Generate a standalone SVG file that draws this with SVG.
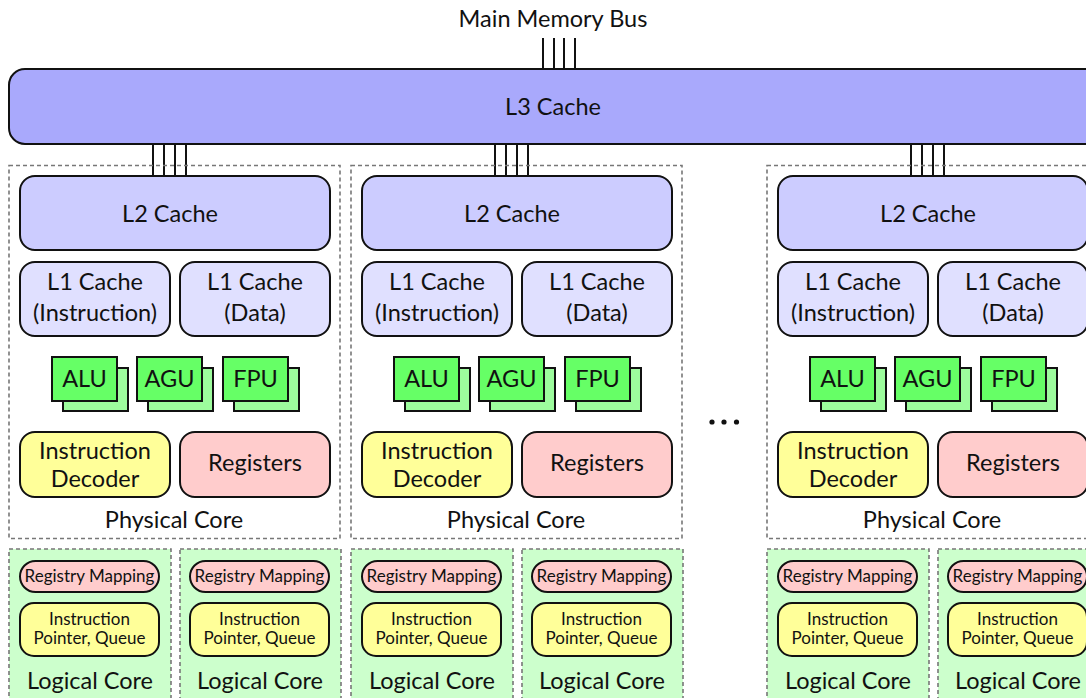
<svg xmlns="http://www.w3.org/2000/svg" xmlns:xlink="http://www.w3.org/1999/xlink" width="1086" height="698" viewBox="0 0 1086 698">
<style>
text{font-family:Lato,"Open Sans","Liberation Sans",sans-serif;fill:#111;text-anchor:middle}
.big{font-size:23.5px}
.sm{font-size:17px}
.box{stroke:#111;stroke-width:2}
.dash{fill:none;stroke:#777;stroke-width:1.6;stroke-dasharray:4 3}
.lc{fill:#ccffcc;stroke:#777;stroke-width:1.6;stroke-dasharray:4 3}
.l3{fill:#a9a9fc}
.l2{fill:#ccccff}
.l1{fill:#e0e0ff}
.fu{fill:#66ff66}
.fub{fill:#9dfc9d}
.dec{fill:#ffff99}
.reg{fill:#ffcccc}
.bus{stroke:#111;stroke-width:2;fill:none}
</style>
<rect width="1086" height="698" fill="#fff"/>

<g id="connectors">
  <path class="bus" d="M543 38V70M554 38V70M564 38V70M575 38V70"/>
  <path class="bus" d="M153 144V177M164 144V177M175 144V177M186 144V177"/>
  <path class="bus" d="M495 144V177M506 144V177M517 144V177M528 144V177"/>
  <path class="bus" d="M911 144V177M922 144V177M933 144V177M944 144V177"/>
</g>

<g id="main-memory-bus"><text class="big" x="553" y="27">Main Memory Bus</text></g>

<g id="l3-cache">
  <rect class="box l3" x="9" y="69" width="1095" height="75" rx="16"/>
  <text class="big" x="553" y="115">L3 Cache</text>
</g>

<!-- Core 1 -->
<g id="core1">
  <g id="core1-physical"><rect class="dash" x="9" y="165.5" width="331" height="373"/><text class="big" x="174" y="528">Physical Core</text></g>
  <g id="core1-l2"><rect class="box l2" x="20" y="176" width="310" height="74" rx="15"/><text class="big" x="170" y="222">L2 Cache</text></g>
  <g id="core1-l1i"><rect class="box l1" x="20" y="262" width="150" height="74" rx="15"/><text class="big" x="95" y="290">L1 Cache</text><text class="big" x="95" y="321">(Instruction)</text></g>
  <g id="core1-l1d"><rect class="box l1" x="180" y="262" width="150" height="74" rx="15"/><text class="big" x="255" y="290">L1 Cache</text><text class="big" x="255" y="321">(Data)</text></g>
  <g id="core1-alu"><rect class="box fub" x="63" y="368" width="65" height="43"/><rect class="box fu" x="52" y="357" width="65" height="44"/><text class="big" x="84.5" y="387">ALU</text></g>
  <g id="core1-agu"><rect class="box fub" x="148" y="368" width="65" height="43"/><rect class="box fu" x="137" y="357" width="65" height="44"/><text class="big" x="169.5" y="387">AGU</text></g>
  <g id="core1-fpu"><rect class="box fub" x="234" y="368" width="65" height="43"/><rect class="box fu" x="223" y="357" width="65" height="44"/><text class="big" x="255.5" y="387">FPU</text></g>
  <g id="core1-decoder"><rect class="box dec" x="20" y="432" width="150" height="65" rx="15"/><text class="big" x="95" y="459">Instruction</text><text class="big" x="95" y="487">Decoder</text></g>
  <g id="core1-registers"><rect class="box reg" x="180" y="432" width="150" height="65" rx="15"/><text class="big" x="255" y="471">Registers</text></g>
  <g id="core1-logical1"><rect class="lc" x="9" y="549" width="162" height="160"/>
    <rect class="box reg" x="20" y="561" width="139" height="31" rx="15.5"/><text class="sm" x="89.5" y="582">Registry Mapping</text>
    <rect class="box dec" x="20" y="603" width="139" height="53" rx="14"/><text class="sm" x="89.5" y="625">Instruction</text><text class="sm" x="89.5" y="644">Pointer, Queue</text>
    <text class="big" x="90" y="689">Logical Core</text></g>
  <g id="core1-logical2"><rect class="lc" x="180" y="549" width="161" height="160"/>
    <rect class="box reg" x="190" y="561" width="139" height="31" rx="15.5"/><text class="sm" x="259.5" y="582">Registry Mapping</text>
    <rect class="box dec" x="190" y="603" width="139" height="53" rx="14"/><text class="sm" x="259.5" y="625">Instruction</text><text class="sm" x="259.5" y="644">Pointer, Queue</text>
    <text class="big" x="260" y="689">Logical Core</text></g>
</g>

<!-- Core 2 -->
<g id="core2" transform="translate(342 0)">
  <g id="core2-physical"><rect class="dash" x="9" y="165.5" width="331" height="373"/><text class="big" x="174" y="528">Physical Core</text></g>
  <g id="core2-l2"><rect class="box l2" x="20" y="176" width="310" height="74" rx="15"/><text class="big" x="170" y="222">L2 Cache</text></g>
  <g id="core2-l1i"><rect class="box l1" x="20" y="262" width="150" height="74" rx="15"/><text class="big" x="95" y="290">L1 Cache</text><text class="big" x="95" y="321">(Instruction)</text></g>
  <g id="core2-l1d"><rect class="box l1" x="180" y="262" width="150" height="74" rx="15"/><text class="big" x="255" y="290">L1 Cache</text><text class="big" x="255" y="321">(Data)</text></g>
  <g id="core2-alu"><rect class="box fub" x="63" y="368" width="65" height="43"/><rect class="box fu" x="52" y="357" width="65" height="44"/><text class="big" x="84.5" y="387">ALU</text></g>
  <g id="core2-agu"><rect class="box fub" x="148" y="368" width="65" height="43"/><rect class="box fu" x="137" y="357" width="65" height="44"/><text class="big" x="169.5" y="387">AGU</text></g>
  <g id="core2-fpu"><rect class="box fub" x="234" y="368" width="65" height="43"/><rect class="box fu" x="223" y="357" width="65" height="44"/><text class="big" x="255.5" y="387">FPU</text></g>
  <g id="core2-decoder"><rect class="box dec" x="20" y="432" width="150" height="65" rx="15"/><text class="big" x="95" y="459">Instruction</text><text class="big" x="95" y="487">Decoder</text></g>
  <g id="core2-registers"><rect class="box reg" x="180" y="432" width="150" height="65" rx="15"/><text class="big" x="255" y="471">Registers</text></g>
  <g id="core2-logical1"><rect class="lc" x="9" y="549" width="162" height="160"/>
    <rect class="box reg" x="20" y="561" width="139" height="31" rx="15.5"/><text class="sm" x="89.5" y="582">Registry Mapping</text>
    <rect class="box dec" x="20" y="603" width="139" height="53" rx="14"/><text class="sm" x="89.5" y="625">Instruction</text><text class="sm" x="89.5" y="644">Pointer, Queue</text>
    <text class="big" x="90" y="689">Logical Core</text></g>
  <g id="core2-logical2"><rect class="lc" x="180" y="549" width="161" height="160"/>
    <rect class="box reg" x="190" y="561" width="139" height="31" rx="15.5"/><text class="sm" x="259.5" y="582">Registry Mapping</text>
    <rect class="box dec" x="190" y="603" width="139" height="53" rx="14"/><text class="sm" x="259.5" y="625">Instruction</text><text class="sm" x="259.5" y="644">Pointer, Queue</text>
    <text class="big" x="260" y="689">Logical Core</text></g>
</g>

<g id="ellipsis"><circle cx="712" cy="422" r="2.6" fill="#111"/><circle cx="724" cy="422" r="2.6" fill="#111"/><circle cx="736.5" cy="422" r="2.6" fill="#111"/></g>

<!-- Core 3 -->
<g id="core3" transform="translate(758 0)">
  <g id="core3-physical"><rect class="dash" x="9" y="165.5" width="331" height="373"/><text class="big" x="174" y="528">Physical Core</text></g>
  <g id="core3-l2"><rect class="box l2" x="20" y="176" width="310" height="74" rx="15"/><text class="big" x="170" y="222">L2 Cache</text></g>
  <g id="core3-l1i"><rect class="box l1" x="20" y="262" width="150" height="74" rx="15"/><text class="big" x="95" y="290">L1 Cache</text><text class="big" x="95" y="321">(Instruction)</text></g>
  <g id="core3-l1d"><rect class="box l1" x="180" y="262" width="150" height="74" rx="15"/><text class="big" x="255" y="290">L1 Cache</text><text class="big" x="255" y="321">(Data)</text></g>
  <g id="core3-alu"><rect class="box fub" x="63" y="368" width="65" height="43"/><rect class="box fu" x="52" y="357" width="65" height="44"/><text class="big" x="84.5" y="387">ALU</text></g>
  <g id="core3-agu"><rect class="box fub" x="148" y="368" width="65" height="43"/><rect class="box fu" x="137" y="357" width="65" height="44"/><text class="big" x="169.5" y="387">AGU</text></g>
  <g id="core3-fpu"><rect class="box fub" x="234" y="368" width="65" height="43"/><rect class="box fu" x="223" y="357" width="65" height="44"/><text class="big" x="255.5" y="387">FPU</text></g>
  <g id="core3-decoder"><rect class="box dec" x="20" y="432" width="150" height="65" rx="15"/><text class="big" x="95" y="459">Instruction</text><text class="big" x="95" y="487">Decoder</text></g>
  <g id="core3-registers"><rect class="box reg" x="180" y="432" width="150" height="65" rx="15"/><text class="big" x="255" y="471">Registers</text></g>
  <g id="core3-logical1"><rect class="lc" x="9" y="549" width="162" height="160"/>
    <rect class="box reg" x="20" y="561" width="139" height="31" rx="15.5"/><text class="sm" x="89.5" y="582">Registry Mapping</text>
    <rect class="box dec" x="20" y="603" width="139" height="53" rx="14"/><text class="sm" x="89.5" y="625">Instruction</text><text class="sm" x="89.5" y="644">Pointer, Queue</text>
    <text class="big" x="90" y="689">Logical Core</text></g>
  <g id="core3-logical2"><rect class="lc" x="180" y="549" width="161" height="160"/>
    <rect class="box reg" x="190" y="561" width="139" height="31" rx="15.5"/><text class="sm" x="259.5" y="582">Registry Mapping</text>
    <rect class="box dec" x="190" y="603" width="139" height="53" rx="14"/><text class="sm" x="259.5" y="625">Instruction</text><text class="sm" x="259.5" y="644">Pointer, Queue</text>
    <text class="big" x="260" y="689">Logical Core</text></g>
</g>
</svg>
